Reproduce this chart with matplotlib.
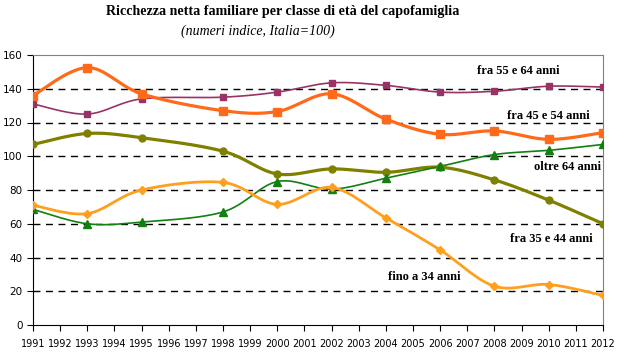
import numpy as np
from matplotlib import pyplot as plt

years = [1991, 1993, 1995, 1998, 2000, 2002, 2004, 2006, 2008, 2010, 2012]
fra_55_64 = [131, 125, 134, 135, 138, 143.5, 142, 138, 138.5, 141.5, 141]
fra_45_54 = [136, 152.5, 137, 127, 126.5, 137, 122, 113, 115, 110, 114]
oltre_64 = [68.5, 60, 61, 67, 85, 80.5, 87, 94, 101, 103.5, 107]
fra_35_44 = [107, 113.5, 111, 103, 89.5, 92.5, 90.5, 93.5, 86, 74, 60]
fino_34 = [71, 66, 80, 84.5, 71.5, 81.5, 63.5, 44.5, 23, 24, 17.5]
xticks = list(range(1991, 2013))
yticks = list(range(0, 161, 20))


def smooth(x, y, n=30):
    # bezier smoothing like the spreadsheet "smoothed line" option
    x = np.asarray(x, float)
    y = np.asarray(y, float)
    px = np.concatenate(([x[0]], x, [x[-1]]))
    py = np.concatenate(([y[0]], y, [y[-1]]))
    ox, oy = [], []
    t = np.linspace(0, 1, n)
    for i in range(1, len(px) - 2):
        p0 = np.array([px[i], py[i]])
        p3 = np.array([px[i + 1], py[i + 1]])
        p1 = p0 + (np.array([px[i + 1], py[i + 1]]) - np.array([px[i - 1], py[i - 1]])) / 6
        p2 = p3 - (np.array([px[i + 2], py[i + 2]]) - np.array([px[i], py[i]])) / 6
        b = ((1 - t) ** 3)[:, None] * p0 + (3 * (1 - t) ** 2 * t)[:, None] * p1 \
            + (3 * (1 - t) * t ** 2)[:, None] * p2 + (t ** 3)[:, None] * p3
        ox.extend(b[:, 0])
        oy.extend(b[:, 1])
    return ox, oy


def main():
    fig = plt.figure(figsize=(6.27, 3.52), dpi=100)
    ax = fig.add_axes([33 / 627, 1 - 325 / 352, 570 / 627, 270 / 352])

    series = [
        (fra_55_64, '#993366', 1.2, 's', 5),
        (fra_45_54, '#FF6A1A', 2.3, 's', 6),
        (fra_35_44, '#808000', 2.3, 'o', 5),
        (oltre_64, '#118011', 1.2, '^', 5.5),
        (fino_34, '#FF9F1F', 2.0, 'D', 4.5),
    ]
    for vals, col, lw, mk, ms in series:
        sx, sy = smooth(years, vals)
        ax.plot(sx, sy, color=col, lw=lw, zorder=3)
        ax.plot(years, vals, ls='none', marker=mk, ms=ms, color=col, zorder=4)

    ax.set_xlim(1991, 2012)
    ax.set_ylim(0, 160)
    ax.set_xticks(xticks)
    ax.set_yticks(yticks)
    ax.tick_params(axis='x', labelsize=7, length=4, pad=6)
    ax.tick_params(axis='y', labelsize=7.5, length=4)
    for y in yticks[1:-1]:
        ax.axhline(y, color='black', lw=1, ls=(0, (5, 4)), zorder=1)
    ax.spines['top'].set_color('#808080')
    ax.spines['right'].set_color('#808080')

    lab = dict(fontsize=9, fontweight='bold', family='Liberation Serif', zorder=5)
    ax.text(2008.87, 150.5, 'fra 55 e 64 anni', ha='center', va='center', **lab)
    ax.text(2010.0, 123.8, 'fra 45 e 54 anni', ha='center', va='center', **lab)
    ax.text(2010.7, 93.6, 'oltre 64 anni', ha='center', va='center', **lab)
    ax.text(2010.1, 51, 'fra 35 e 44 anni', ha='center', va='center', **lab)
    ax.text(2005.4, 28.4, 'fino a 34 anni', ha='center', va='center', **lab)

    fig.text(283 / 627, 1 - 12 / 352, 'Ricchezza netta familiare per classe di età del capofamiglia',
             ha='center', va='center', fontsize=10.1, fontweight='bold', family='Liberation Serif')
    fig.text(258 / 627, 1 - 31 / 352, '(numeri indice, Italia=100)',
             ha='center', va='center', fontsize=10, style='italic', family='Liberation Serif')

    fig.savefig('out.png', dpi=100)


if __name__ == '__main__':
    main()
